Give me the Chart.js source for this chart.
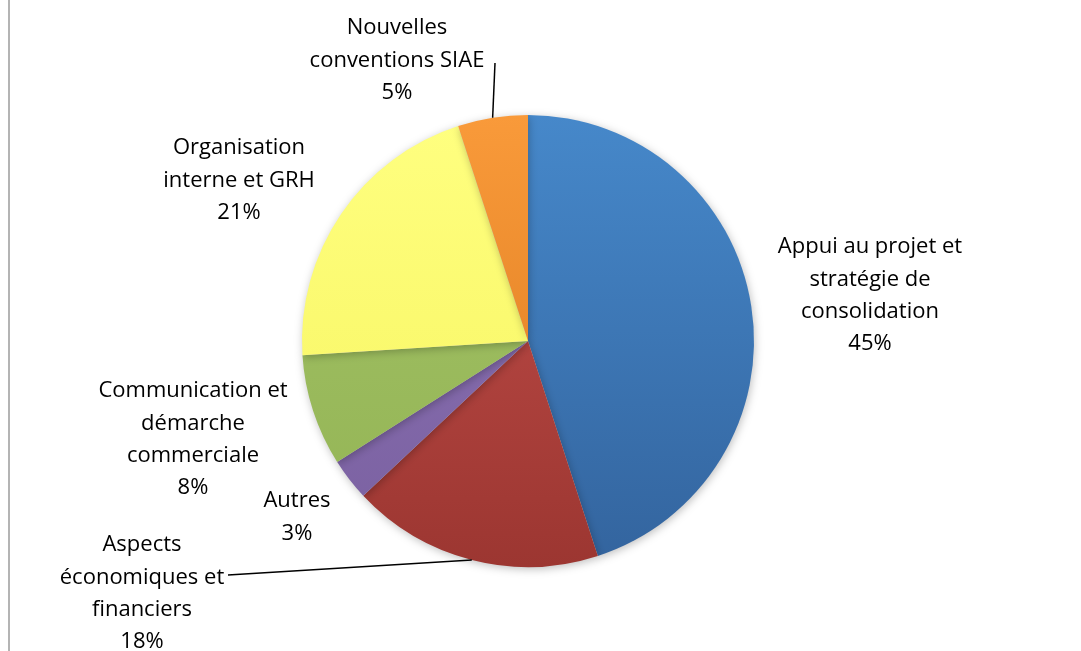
<!DOCTYPE html>
<html>
<head>
<meta charset="utf-8">
<script src="https://cdn.jsdelivr.net/npm/chart.js@4/dist/chart.umd.min.js"></script>
<style>
  html, body { margin: 0; padding: 0; background: #fff; }
  #wrap { position: relative; width: 1081px; height: 651px; }
  #wrap::before { content: ''; position: absolute; left: 8px; top: 0; width: 2px; height: 651px; background: #b4b4b4; }
  canvas { display: block; }
</style>
</head>
<body>
<div id="wrap"><canvas id="pie" width="1081" height="651"></canvas></div>
<script>
// categories, clockwise from 12 o'clock
const categories = [
  ['Appui au projet et', 'stratégie de', 'consolidation'],
  ['Aspects', 'économiques et', 'financiers'],
  ['Autres'],
  ['Communication et', 'démarche', 'commerciale'],
  ['Organisation', 'interne et GRH'],
  ['Nouvelles', 'conventions SIAE']
];
const shares = [45, 18, 3, 8, 21, 5];

// gradient stops per slice (top, bottom)
const sliceColors = [
  ['#4688ca', '#33649e'],
  ['#c4504c', '#9c3631'],
  ['#8c74b6', '#7a60a0'],
  ['#a3c267', '#93b454'],
  ['#ffff80', '#f6f45e'],
  ['#f99a3a', '#d9781c']
];

// label block centres (x, first line y) and leader line flag
const labelPos = [
  [870, 247, false],
  [142, 545, true],
  [297, 501, false],
  [193, 391, false],
  [239, 148, false],
  [397, 28, true]
];
const leaderEnd = { 1: [228, 575], 5: [495, 63] };

const fill = (ctx) => {
  const area = ctx.chart.chartArea;
  const c = sliceColors[ctx.dataIndex];
  if (!area) return c[0];
  const g = ctx.chart.ctx.createLinearGradient(0, area.top, 0, area.bottom);
  g.addColorStop(0, c[0]);
  g.addColorStop(1, c[1]);
  return g;
};

const shadowPlugin = {
  id: 'shadow',
  beforeDatasetsDraw(chart) {
    const ctx = chart.ctx;
    ctx.save();
    ctx.shadowColor = 'rgba(0,0,0,0.25)';
    ctx.shadowBlur = 8;
    ctx.shadowOffsetX = 1;
    ctx.shadowOffsetY = 2;
  },
  afterDatasetsDraw(chart) {
    chart.ctx.restore();
  }
};

const labelPlugin = {
  id: 'sliceLabels',
  afterDatasetsDraw(chart) {
    const ctx = chart.ctx;
    const arcs = chart.getDatasetMeta(0).data;
    ctx.save();
    arcs.forEach((arc, i) => {
      const [lx, ly, leader] = labelPos[i];
      if (leader) {
        const mid = (arc.startAngle + arc.endAngle) / 2;
        const ax = arc.x + Math.cos(mid) * arc.outerRadius;
        const ay = arc.y + Math.sin(mid) * arc.outerRadius;
        const [ex, ey] = leaderEnd[i];
        ctx.beginPath();
        ctx.moveTo(ax, ay);
        ctx.lineTo(ex, ey);
        ctx.strokeStyle = '#000';
        ctx.lineWidth = 1.5;
        ctx.stroke();
      }
      const lines = categories[i].concat([shares[i] + '%']);
      ctx.fillStyle = '#000';
      ctx.font = '22px "Open Sans", Lato, sans-serif';
      ctx.textAlign = 'center';
      ctx.textBaseline = 'middle';
      lines.forEach((t, k) => ctx.fillText(t, lx, ly + k * 32.3));
    });
    ctx.restore();
  }
};

new Chart(document.getElementById('pie'), {
  type: 'pie',
  data: {
    labels: categories,
    datasets: [{
      data: shares,
      backgroundColor: fill,
      borderWidth: 0
    }]
  },
  options: {
    responsive: false,
    animation: false,
    layout: { padding: { left: 302, right: 327, top: 115, bottom: 84 } },
    plugins: {
      legend: { display: false },
      tooltip: { enabled: false }
    }
  },
  plugins: [shadowPlugin, labelPlugin]
});
</script>
</body>
</html>
